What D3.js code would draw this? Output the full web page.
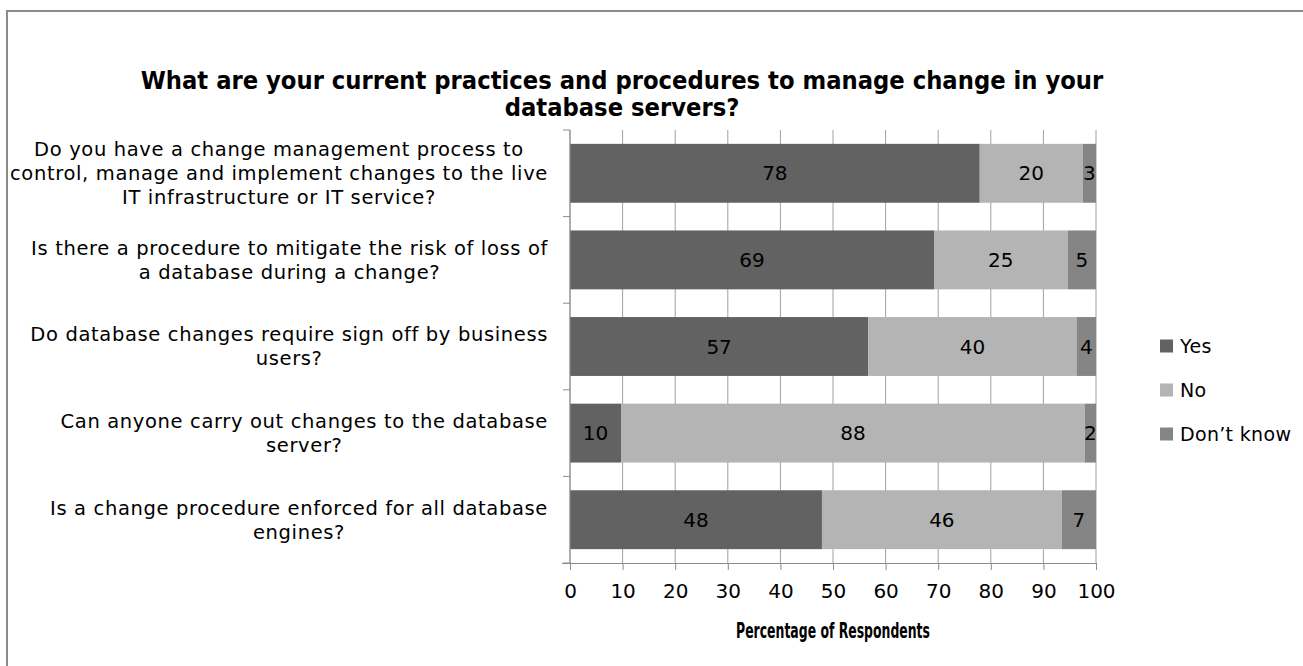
<!DOCTYPE html>
<html>
<head>
<meta charset="utf-8">
<script src="https://cdn.jsdelivr.net/npm/d3@7"></script>
<style>
  body { margin: 0; background: #fff; }
  svg { display: block; font-family: 'DejaVu Sans', sans-serif; }
  .grid line { stroke: #a0a0a0; }
  .axis path, .axis line { stroke: #8c8c8c; }
</style>
</head>
<body>
<div id="chart"></div>
<script>
const width = 1303
const height = 666

const titleLines = ['What are your current practices and procedures to manage change in your', 'database servers?']
const categories = [
  ['Do you have a change management process to', 'control, manage and implement changes to the live', 'IT infrastructure or IT service?'],
  ['Is there a procedure to mitigate the risk of loss of', 'a database during a change?'],
  ['Do database changes require sign off by business', 'users?'],
  ['Can anyone carry out changes to the database', 'server?'],
  ['Is a change procedure enforced for all database', 'engines?']
]
const seriesNames = ['Yes', 'No', 'Don\u2019t know']
const yesValues = [77.9, 69.2, 56.7, 9.7, 47.9]
const noValues = [19.6, 25.4, 39.6, 88.2, 45.6]
const dontKnowValues = [2.5, 5.4, 3.7, 2.1, 6.5]
const xTicks = [0, 10, 20, 30, 40, 50, 60, 70, 80, 90, 100]
const colors = ['#626262', '#b4b4b4', '#858585']

const margin = { left: 570, right: 207, top: 130, bottom: 103 }

const svg = d3.select('#chart').append('svg')
  .attr('width', width)
  .attr('height', height)

// chart frame
svg.append('rect')
  .attr('x', 7).attr('y', 11)
  .attr('width', width).attr('height', height)
  .attr('fill', 'none')
  .attr('stroke', '#8c8c8c')
  .attr('stroke-width', 2)

const x = d3.scaleLinear().domain([0, 100]).range([margin.left, width - margin.right])
const y = d3.scaleBand()
  .domain(d3.range(categories.length))
  .range([margin.top, height - margin.bottom])
  .paddingInner(0.32)
  .paddingOuter(0.16)

// title: bold, squeezed horizontally to look like the condensed face of the original
const titleG = svg.append('g')
const title = titleG.append('text')
  .attr('text-anchor', 'middle')
  .attr('font-weight', 'bold')
  .attr('font-size', 24)
title.selectAll('tspan')
  .data(titleLines)
  .enter().append('tspan')
  .attr('x', 0)
  .attr('y', (d, i) => i * 27)
  .attr('dy', '0.35em')
  .text(d => d)
const titleK = 963 / title.select('tspan').node().getComputedTextLength()
titleG.attr('transform', `translate(622,81) scale(${titleK},1)`)

// gridlines
svg.append('g')
  .attr('class', 'grid')
  .selectAll('line')
  .data(xTicks)
  .enter().append('line')
  .attr('x1', d => x(d)).attr('x2', d => x(d))
  .attr('y1', margin.top).attr('y2', height - margin.bottom)

// stacked data
const rows = categories.map((c, i) => ({ yes: yesValues[i], no: noValues[i], dk: dontKnowValues[i] }))
const stack = d3.stack().keys(['yes', 'no', 'dk'])(rows)

const layers = svg.append('g')
  .selectAll('g')
  .data(stack)
  .enter().append('g')
  .attr('fill', (d, i) => colors[i])

layers.selectAll('rect')
  .data(d => d)
  .enter().append('rect')
  .attr('x', d => x(d[0]))
  .attr('y', (d, i) => y(i))
  .attr('width', d => x(Math.min(d[1], 100)) - x(d[0]))
  .attr('height', y.bandwidth())

layers.selectAll('text')
  .data(d => d)
  .enter().append('text')
  .attr('x', d => (x(d[0]) + x(Math.min(d[1], 100))) / 2)
  .attr('y', (d, i) => y(i) + y.bandwidth() / 2)
  .attr('dy', '0.35em')
  .attr('text-anchor', 'middle')
  .attr('font-size', 20)
  .attr('fill', '#000')
  .text(d => d3.format('.0f')(d[1] - d[0]))

// y axis: line and boundary ticks
const yAxis = svg.append('g').attr('class', 'axis')
yAxis.append('line')
  .attr('x1', margin.left).attr('x2', margin.left)
  .attr('y1', margin.top).attr('y2', height - margin.bottom)
yAxis.selectAll('.bt')
  .data(d3.range(categories.length + 1))
  .enter().append('line')
  .attr('class', 'bt')
  .attr('x1', margin.left - 7).attr('x2', margin.left)
  .attr('y1', d => margin.top + d * y.step())
  .attr('y2', d => margin.top + d * y.step())

// category labels, lines centred within the block, block right-aligned
const labelRight = 548
const labelSize = 19.5
const probe = svg.append('text').attr('font-size', labelSize).text(categories[0][1])
const labelLs = Math.max(0, (538 - probe.node().getComputedTextLength()) / categories[0][1].length)
probe.remove()

categories.forEach((lines, i) => {
  const g = svg.append('g')
  const cy = y(i) + y.bandwidth() / 2
  const lh = 24
  const t = g.selectAll('text')
    .data(lines)
    .enter().append('text')
    .attr('font-size', labelSize)
    .attr('letter-spacing', labelLs)
    .attr('text-anchor', 'middle')
    .attr('y', (d, j) => cy + (j - (lines.length - 1) / 2) * lh)
    .attr('dy', '0.35em')
    .text(d => d)
  let w = 0
  t.each(function () { w = Math.max(w, this.getComputedTextLength()) })
  t.attr('x', labelRight - w / 2)
})

// x axis
const xAxis = svg.append('g')
  .attr('class', 'axis')
  .attr('transform', `translate(0,${height - margin.bottom})`)
  .call(d3.axisBottom(x).tickValues(xTicks).tickSize(7).tickPadding(14).tickSizeOuter(0))
xAxis.select('.domain').attr('d', `M${margin.left - 8},0.5H${x(100)}`)
xAxis.selectAll('.tick text')
  .attr('font-size', 20)
  .attr('font-family', 'DejaVu Sans, sans-serif')
  .attr('fill', '#000')

const axisTitleG = svg.append('g')
const axisTitle = axisTitleG.append('text')
  .attr('dy', '0.35em')
  .attr('text-anchor', 'middle')
  .attr('font-weight', 'bold')
  .attr('font-size', 21)
  .text('Percentage of Respondents')
const axisK = 194 / axisTitle.node().getComputedTextLength()
axisTitleG.attr('transform', `translate(${(x(0) + x(100)) / 2},631) scale(${axisK},1)`)

// legend
const legend = svg.append('g')
  .selectAll('g')
  .data(seriesNames)
  .enter().append('g')
  .attr('transform', (d, i) => `translate(1160,${346 + i * 44})`)
legend.append('rect')
  .attr('x', 0).attr('y', -6.5)
  .attr('width', 13).attr('height', 13)
  .attr('fill', (d, i) => colors[i])
legend.append('text')
  .attr('x', 20)
  .attr('dy', '0.35em')
  .attr('font-size', 19)
  .attr('letter-spacing', labelLs * 0.5)
  .text(d => d)
</script>
</body>
</html>
